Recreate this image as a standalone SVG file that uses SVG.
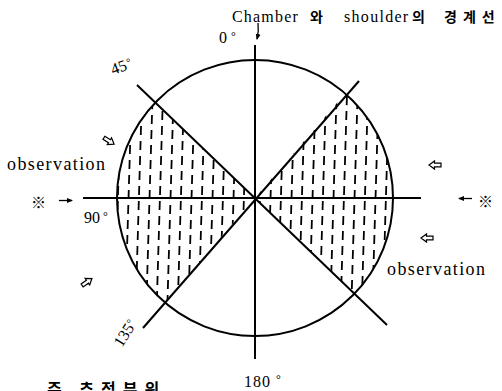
<svg xmlns="http://www.w3.org/2000/svg" width="502" height="391" viewBox="0 0 502 391">
<style>
.t{font-family:"Liberation Serif","Noto Sans CJK KR",serif;fill:#000}
.k{font-family:"Noto Sans CJK KR","Liberation Serif",sans-serif;fill:#000}
.ln{stroke:#000;stroke-width:2;fill:none}
.h{stroke:#000;stroke-width:1.8;stroke-dasharray:9 6;fill:none}
.ha{fill:#fff;stroke:#000;stroke-width:1.2}
</style>
<defs>
<path id="hollow" d="M-6,-1.8 L0.5,-1.8 L0.5,-4 L6,0 L0.5,4 L0.5,1.8 L-6,1.8 Z"/>
<marker id="ah" markerWidth="6" markerHeight="6" refX="5" refY="3" orient="auto" markerUnits="userSpaceOnUse"><path d="M0,0.5 L6,3 L0,5.5 Z" fill="#000"/></marker>
<clipPath id="lw"><path d="M255,198 L155.3,102.6 A138,138 0 0 0 164.9,302.5 Z"/></clipPath>
<clipPath id="rw"><path d="M255,198 L345.1,93.5 A138,138 0 0 1 354.7,293.4 Z"/></clipPath>
</defs>
<rect width="502" height="391" fill="#fff"/>

<g id="hatch-left" clip-path="url(#lw)">
<path class="h" d="M114,330 L122,60 M124.5,334 L132.5,64 M135,330 L143,60 M145.5,334 L153.5,64 M156,330 L164,60 M166.5,334 L174.5,64 M177,330 L185,60 M187.5,334 L195.5,64 M198,330 L206,60 M208.5,334 L216.5,64 M219,330 L227,60 M229.5,334 L237.5,64 M240,330 L248,60 M250.5,334 L258.5,64"/>
</g>
<g id="hatch-right" clip-path="url(#rw)">
<path class="h" d="M256,330 L264,60 M266.5,334 L274.5,64 M277,330 L285,60 M287.5,334 L295.5,64 M298,330 L306,60 M308.5,334 L316.5,64 M319,330 L327,60 M329.5,334 L337.5,64 M340,330 L348,60 M350.5,334 L358.5,64 M361,330 L369,60 M371.5,334 L379.5,64 M382,330 L390,60 M392.5,334 L400.5,64"/>
</g>

<g id="circle"><circle class="ln" cx="255" cy="198" r="138"/></g>

<g id="connectors">
<line class="ln" x1="255" y1="45" x2="255" y2="359"/>
<line class="ln" x1="83" y1="198" x2="421" y2="198"/>
<line class="ln" x1="137" y1="85" x2="387" y2="325"/>
<line class="ln" x1="359" y1="81" x2="143" y2="328"/>
<path d="M258,23 Q259,31 257,39" stroke="#000" stroke-width="1.3" fill="none" marker-end="url(#ah)"/>
<line x1="59" y1="200.5" x2="72" y2="200.5" stroke="#000" stroke-width="1.3" marker-end="url(#ah)"/>
<line x1="472" y1="198.5" x2="459" y2="198.5" stroke="#000" stroke-width="1.3" marker-end="url(#ah)"/>
<use href="#hollow" class="ha" transform="translate(109,141) rotate(32)"/>
<use href="#hollow" class="ha" transform="translate(87,282) rotate(-35)"/>
<use href="#hollow" class="ha" transform="translate(435,165) rotate(180)"/>
<use href="#hollow" class="ha" transform="translate(427,238) rotate(180)"/>
</g>

<g id="title">
<text class="t" x="232" y="22" font-size="16" letter-spacing="1.2">Chamber</text>
<text class="k" x="310" y="22" font-size="14" font-weight="bold">와</text>
<text class="t" x="344" y="22" font-size="16" letter-spacing="1.3">shoulder</text>
<text class="k" x="412" y="22" font-size="14" font-weight="bold">의</text>
<text class="k" x="444" y="22" font-size="14" font-weight="bold" letter-spacing="6">경계선</text>
</g>

<g id="labels">
<text class="t" x="219" y="43" font-size="16">0</text>
<text class="t" x="231" y="40" font-size="12">°</text>
<text class="t" x="113" y="75" font-size="16" transform="rotate(-20 113 75)">45<tspan font-size="11" dy="-3" dx="1">°</tspan></text>
<text class="t" x="84" y="223" font-size="16">90</text>
<text class="t" x="103" y="220" font-size="12">°</text>
<text class="t" x="122" y="348" font-size="16" transform="rotate(-58 122 348)">135<tspan font-size="11" dy="-3">°</tspan></text>
<text class="t" x="244" y="387" font-size="16" letter-spacing="1">180</text>
<text class="t" x="276" y="383" font-size="12">°</text>
<text class="t" x="7" y="170" font-size="18" letter-spacing="1.4">observation</text>
<text class="t" x="387" y="275" font-size="18" letter-spacing="1.4">observation</text>
<text class="k" x="31" y="208" font-size="15">※</text>
<text class="k" x="478" y="207" font-size="15">※</text>
<text class="k" x="47" y="395" font-size="16" font-weight="bold" letter-spacing="7">주 추정부위</text>
</g>
</svg>
